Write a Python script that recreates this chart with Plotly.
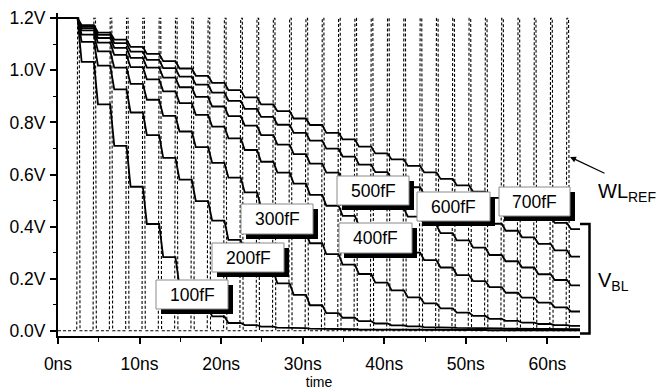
import plotly.graph_objects as go

# ---------------- data ----------------
TIME_END = 64.0
WL_HIGH = 1.2
# start time (ns) of each reference word-line pulse
WL_PULSE_START = [2.3, 4.3, 6.3, 8.3, 10.3, 12.3, 14.3, 16.3, 18.3, 20.3, 22.3,
                  24.3, 26.3, 28.3, 30.3, 32.3, 34.3, 36.3, 38.3, 40.3, 42.3,
                  44.3, 46.3, 48.3, 50.3, 52.3, 54.3, 56.3, 58.3, 60.3, 62.3]

CAP_LABELS = ["100fF", "200fF", "300fF", "400fF", "500fF", "600fF", "700fF"]

# bit-line voltage (V): initial level, then level after each WL pulse
BL_100 = [1.2, 1.032, 0.869, 0.710, 0.553, 0.410, 0.283, 0.170, 0.095, 0.055, 0.030,
          0.022, 0.016, 0.012, 0.010, 0.008, 0.007, 0.006, 0.005, 0.005, 0.004,
          0.004, 0.003, 0.003, 0.003, 0.003, 0.002, 0.002, 0.002, 0.002, 0.002, 0.002]
BL_200 = [1.2, 1.109, 1.018, 0.927, 0.838, 0.751, 0.664, 0.580, 0.498, 0.423, 0.349,
          0.282, 0.228, 0.182, 0.138, 0.098, 0.068, 0.050, 0.037, 0.028, 0.021,
          0.017, 0.014, 0.012, 0.011, 0.010, 0.009, 0.008, 0.007, 0.007, 0.006, 0.006]
BL_300 = [1.2, 1.137, 1.073, 1.010, 0.948, 0.887, 0.825, 0.765, 0.705, 0.645, 0.588,
          0.531, 0.474, 0.424, 0.378, 0.336, 0.294, 0.254, 0.218, 0.185, 0.155,
          0.128, 0.105, 0.086, 0.070, 0.057, 0.046, 0.038, 0.031, 0.026, 0.022, 0.019]
BL_400 = [1.2, 1.153, 1.106, 1.059, 1.012, 0.965, 0.919, 0.874, 0.829, 0.784, 0.739,
          0.694, 0.649, 0.607, 0.565, 0.522, 0.480, 0.441, 0.403, 0.368, 0.334,
          0.300, 0.271, 0.243, 0.214, 0.191, 0.168, 0.146, 0.127, 0.108, 0.090, 0.074]
BL_500 = [1.2, 1.162, 1.124, 1.086, 1.048, 1.010, 0.972, 0.935, 0.898, 0.861, 0.824,
          0.788, 0.751, 0.715, 0.678, 0.642, 0.607, 0.573, 0.538, 0.504, 0.469,
          0.438, 0.406, 0.375, 0.347, 0.319, 0.291, 0.267, 0.243, 0.217, 0.195, 0.174]
BL_600 = [1.2, 1.168, 1.136, 1.104, 1.072, 1.040, 1.008, 0.976, 0.945, 0.914, 0.883,
          0.852, 0.821, 0.791, 0.760, 0.730, 0.699, 0.669, 0.638, 0.609, 0.580,
          0.551, 0.522, 0.493, 0.465, 0.438, 0.411, 0.384, 0.359, 0.334, 0.309, 0.285]
BL_700 = [1.2, 1.173, 1.145, 1.118, 1.090, 1.063, 1.035, 1.007, 0.979, 0.952, 0.924,
          0.896, 0.869, 0.843, 0.815, 0.790, 0.760, 0.735, 0.707, 0.681, 0.658,
          0.633, 0.608, 0.583, 0.558, 0.534, 0.510, 0.486, 0.462, 0.438, 0.414, 0.390]
BL_SERIES = [BL_100, BL_200, BL_300, BL_400, BL_500, BL_600, BL_700]

Y_TICK_VALS = [0.0, 0.2, 0.4, 0.6, 0.8, 1.0, 1.2]
Y_TICK_TEXT = ["0.0V", "0.2V", "0.4V", "0.6V", "0.8V", "1.0V", "1.2V"]
X_TICK_VALS = [0, 10, 20, 30, 40, 50, 60]
X_TICK_TEXT = ["0ns", "10ns", "20ns", "30ns", "40ns", "50ns", "60ns"]

# ---------------- geometry / style ----------------
W, H = 663, 391
L, R, T, B = 58, 580, 13, 336
FONT = "Liberation Sans, Arial, Helvetica, sans-serif"


def pp(px, py):
    return (px - L) / (R - L), (B - py) / (B - T)


# word-line waveform (pulse edges around each start time)
wl_x, wl_y = [0.0], [0.0]
for t in WL_PULSE_START:
    wl_x += [t, t + 0.1, t + 0.3, t + 0.4]
    wl_y += [0.0, WL_HIGH, WL_HIGH, 0.0]
wl_x.append(TIME_END)
wl_y.append(0.0)

fig = go.Figure()
fig.add_trace(go.Scatter(x=wl_x, y=wl_y, mode="lines",
                         line=dict(color="black", width=1.1, dash="3px,2px"),
                         hoverinfo="skip", showlegend=False))

for name, levels in zip(CAP_LABELS, BL_SERIES):
    xs, ys = [0.0], [levels[0]]
    for k, t in enumerate(WL_PULSE_START):
        xs += [t + 0.1, t + 0.6]
        ys += [levels[k], levels[k + 1]]
    xs.append(TIME_END)
    ys.append(levels[-1])
    fig.add_trace(go.Scatter(x=xs, y=ys, mode="lines", name=name,
                             line=dict(color="black", width=1.8),
                             showlegend=False))

# capacitance label boxes (pixel boxes: x0, y0, x1, y1)
LABEL_BOXES = {
    "100fF": (156, 280, 228, 309),
    "200fF": (212, 243, 284, 272),
    "300fF": (241, 204, 313, 234),
    "400fF": (339, 223, 412, 253),
    "500fF": (337, 176, 409, 205),
    "600fF": (417, 192, 490, 221),
    "700fF": (499, 187, 570, 216),
}
shapes, annotations = [], []
SH = 5
for name in CAP_LABELS:
    x0, y0, x1, y1 = LABEL_BOXES[name]
    a0, b0 = pp(x0 + SH, y1 + SH)
    a1, b1 = pp(x1 + SH, y0 + SH)
    shapes.append(dict(type="rect", xref="paper", yref="paper", x0=a0, y0=b0, x1=a1, y1=b1,
                       fillcolor="black", line=dict(width=0), layer="above"))
    a0, b0 = pp(x0, y1)
    a1, b1 = pp(x1, y0)
    shapes.append(dict(type="rect", xref="paper", yref="paper", x0=a0, y0=b0, x1=a1, y1=b1,
                       fillcolor="white", line=dict(color="#8a8a8a", width=1), layer="above"))
    cx, cy = pp((x0 + x1) / 2, (y0 + y1) / 2)
    annotations.append(dict(text=name, x=cx, y=cy, xref="paper", yref="paper",
                            showarrow=False, xanchor="center", yanchor="middle",
                            font=dict(family=FONT, size=17.5, color="black")))

# V_BL bracket
bx0, by0 = pp(580, 224)
bx1, by1 = pp(589.5, 333.5)
shapes.append(dict(type="path", xref="paper", yref="paper",
                   path=f"M {bx0},{by0} L {bx1},{by0} L {bx1},{by1} L {bx0},{by1}",
                   line=dict(color="black", width=2.5), layer="above"))

vx, vy = pp(596, 281)
annotations.append(dict(text="V<sub>BL</sub>", x=vx, y=vy, xref="paper", yref="paper",
                        showarrow=False, xanchor="left", yanchor="middle",
                        font=dict(family=FONT, size=20, color="black")))
wx, wy = pp(596, 192)
annotations.append(dict(text="WL<sub>REF</sub>", x=wx, y=wy, xref="paper", yref="paper",
                        showarrow=False, xanchor="left", yanchor="middle",
                        font=dict(family=FONT, size=20, color="black")))
tx, ty = pp(570, 157)
annotations.append(dict(text="", x=tx, y=ty, xref="paper", yref="paper",
                        showarrow=True, ax=36, ay=17, arrowhead=2, arrowsize=1,
                        arrowwidth=1.2, arrowcolor="black"))

fig.update_layout(
    template="none",
    width=W, height=H, autosize=False,
    margin=dict(l=L, r=W - R, t=T, b=H - B, pad=0),
    plot_bgcolor="white", paper_bgcolor="white",
    showlegend=False,
    shapes=shapes, annotations=annotations,
    font=dict(family=FONT, color="black"),
    xaxis=dict(range=[0, TIME_END], tickmode="array", tickvals=X_TICK_VALS, ticktext=X_TICK_TEXT,
               automargin=False, ticklabelstandoff=5,
               showgrid=False, zeroline=False, showline=True, linecolor="black", linewidth=2,
               ticks="outside", ticklen=6, tickwidth=1.5, tickcolor="black",
               tickfont=dict(family=FONT, size=17.5, color="black"),
               minor=dict(tickmode="linear", tick0=5, dtick=10, ticks="outside", ticklen=3.5,
                          tickwidth=1.2, tickcolor="black"),
               title=dict(text="time", font=dict(family=FONT, size=14, color="black"), standoff=4)),
    yaxis=dict(range=[-0.02, 1.22], tickmode="array", tickvals=Y_TICK_VALS, ticktext=Y_TICK_TEXT,
               automargin=False, ticklabelstandoff=1,
               showgrid=False, zeroline=False, showline=True, linecolor="black", linewidth=2,
               ticks="outside", ticklen=6, tickwidth=1.5, tickcolor="black",
               tickfont=dict(family=FONT, size=17.5, color="black"),
               minor=dict(tickmode="linear", tick0=0.1, dtick=0.2, ticks="outside", ticklen=3.5,
                          tickwidth=1.2, tickcolor="black")),
)

fig.write_html("out.html", config={"displayModeBar": False},
               post_script="document.body.style.margin='0';")
